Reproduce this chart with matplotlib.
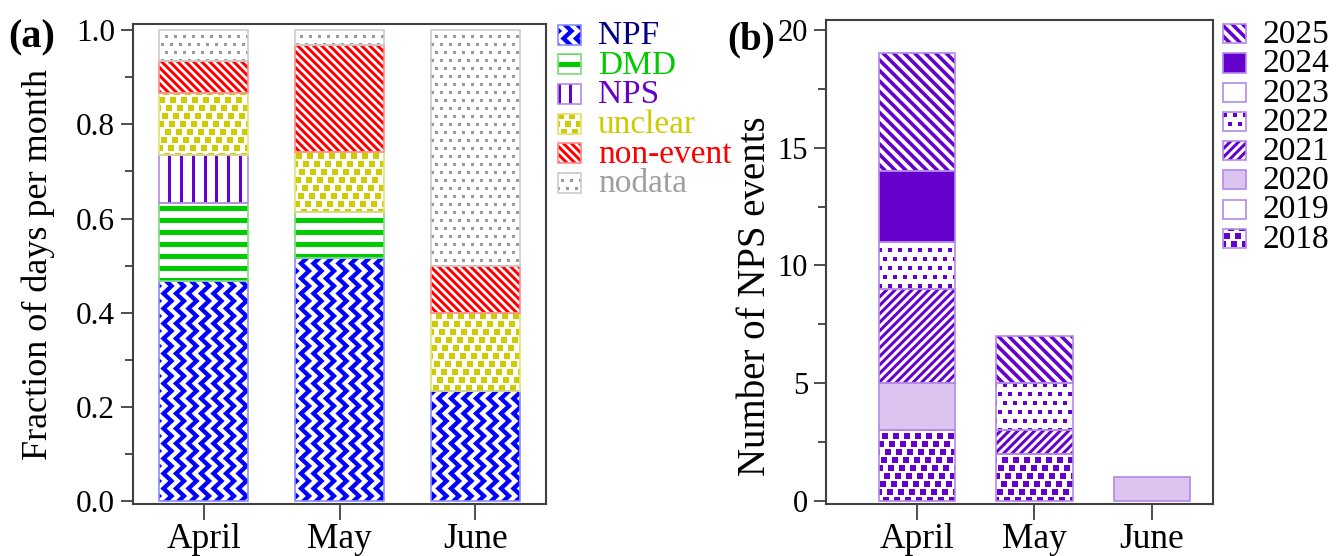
import numpy as np
import matplotlib
matplotlib.use("Agg")
import matplotlib.pyplot as plt
from matplotlib.collections import LineCollection, PolyCollection
from matplotlib.patches import Rectangle
from matplotlib.transforms import IdentityTransform

### data
months = ["April", "May", "June"]

# (a) fraction of days per month, stacked bottom -> top
classes = ["NPF", "DMD", "NPS", "unclear", "non-event", "nodata"]
npf = [0.467, 0.516, 0.233]
dmd = [0.167, 0.097, 0.0]
nps = [0.100, 0.0, 0.0]
unclear = [0.133, 0.129, 0.167]
nonevent = [0.067, 0.226, 0.100]
nodata = [0.066, 0.032, 0.500]

# (b) number of NPS events per year, stacked bottom -> top
years = ["2018", "2019", "2020", "2021", "2022", "2023", "2024", "2025"]
n2018 = [3, 2, 0]
n2019 = [0, 0, 0]
n2020 = [2, 0, 1]
n2021 = [4, 1, 0]
n2022 = [2, 2, 0]
n2023 = [0, 0, 0]
n2024 = [3, 0, 0]
n2025 = [5, 2, 0]

### styles
W, H, DPI = 1336, 556, 100
PT = 72 / DPI  # points per pixel
PURPLE = "#6600cc"
LILAC_EDGE = "#b48ae8"
TICK_FS = 22.5
XTICK_FS = 25.5
LEG_FS = 24

# kind, pattern colour, face, edge, text colour
style_a = {
    "NPF": ("zigzag", "#0000ff", "white", "#8c8cff", "#000080"),
    "DMD": ("hline", "#00cc00", "white", "#7ddc7d", "#00cc00"),
    "NPS": ("vline", PURPLE, "white", LILAC_EDGE, PURPLE),
    "unclear": ("sq_big", "#cccc00", "white", "#e2e27a", "#cccc00"),
    "non-event": ("bslash", "#ff0000", "white", "#ff8c8c", "#ff0000"),
    "nodata": ("sq_small", "#9a9a9a", "white", "#cccccc", "#a0a0a0"),
}
style_b = {
    "2018": ("sq_big", PURPLE, "white"),
    "2019": ("none", PURPLE, "white"),
    "2020": ("none", PURPLE, "#dcc4f0"),
    "2021": ("slash", PURPLE, "white"),
    "2022": ("sq_dots", PURPLE, "white"),
    "2023": ("none", PURPLE, "white"),
    "2024": ("none", PURPLE, PURPLE),
    "2025": ("bslash_wide", PURPLE, "white"),
}

plt.rcParams["font.family"] = ["Liberation Serif", "DejaVu Serif"]
plt.rcParams["axes.linewidth"] = 1.5
plt.rcParams["axes.edgecolor"] = "#404040"


def fill_pattern(add, patch, kind, color, z):
    # draw a hatch-like pattern in pixel units, clipped to the patch
    if kind == "none":
        return
    bb = patch.get_window_extent()
    x0, y0, x1, y1 = bb.x0 - 3, bb.y0 - 3, bb.x1 + 3, bb.y1 + 3
    if kind == "hline":
        sp = 12.0
        ys = np.arange(np.floor(y0 / sp) * sp, y1 + sp, sp)
        coll = LineCollection([[(x0, y), (x1, y)] for y in ys], linewidths=5 * PT)
    elif kind == "vline":
        sp = 11.8
        xs = np.arange(np.floor(x0 / sp) * sp + 4, x1 + sp, sp)
        coll = LineCollection([[(x, y0), (x, y1)] for x in xs], linewidths=3 * PT)
    elif kind in ("bslash", "bslash_wide"):
        sp = 8.0 if kind == "bslash" else 10.5
        cs = np.arange(np.floor((x0 + y0) / sp) * sp, x1 + y1 + sp, sp)
        coll = LineCollection([[(c - y0, y0), (c - y1, y1)] for c in cs],
                              linewidths=(3 if kind == "bslash" else 3.6) * PT)
    elif kind == "slash":
        sp = 8.5
        cs = np.arange(np.floor((y0 - x1) / sp) * sp, y1 - x0 + sp, sp)
        coll = LineCollection([[(x0, x0 + c), (x1, x1 + c)] for c in cs], linewidths=3 * PT)
    elif kind == "zigzag":
        sp, per, amp = 12.5, 15.0, 4.0
        xs = np.arange(np.floor(x0 / sp) * sp + 5, x1 + sp, sp)
        ys = np.arange(np.floor(y0 / per) * per, y1 + per, per / 2)
        off = amp * np.where(np.arange(len(ys)) % 2 == 0, 1.0, -1.0)
        coll = LineCollection([np.column_stack([x + off, ys]) for x in xs], linewidths=4.3 * PT)
        coll.set_joinstyle("miter")
    else:
        dx, dy, shift, size = {
            "sq_big": (11.0, 8.0, 4.0, 5.5),
            "sq_small": (9.0, 8.0, 4.5, 3.0),
            "sq_dots": (10.0, 9.0, 5.0, 3.5),
        }[kind]
        h = size / 2
        verts = []
        for j in np.arange(np.floor(y0 / dy), np.ceil(y1 / dy) + 1):
            y = j * dy
            start = (j * shift) % dx
            for x in np.arange(np.floor(x0 / dx) * dx - dx + start, x1 + dx, dx):
                verts.append([(x - h, y - h), (x + h, y - h), (x + h, y + h), (x - h, y + h)])
        coll = PolyCollection(verts, facecolors=color, edgecolors="none")
    if isinstance(coll, LineCollection):
        coll.set_color(color)
    coll.set_transform(IdentityTransform())
    coll.set_zorder(z)
    add(coll)
    coll.set_clip_path(patch)  # after adding, so the container does not replace it


def px_axes(left, top, right, bottom):
    return [left / W, 1 - bottom / H, (right - left) / W, (bottom - top) / H]


fig = plt.figure(figsize=(W / DPI, H / DPI), dpi=DPI)
axa = fig.add_axes(px_axes(133, 24, 546, 504))
axb = fig.add_axes(px_axes(826, 20, 1213, 504))

for ax in (axa, axb):
    ax.tick_params(axis="both", which="both", direction="out", color="#404040",
                   width=1.3, right=False, top=False)
    ax.tick_params(axis="y", which="major", length=9, pad=4, labelsize=TICK_FS)
    ax.tick_params(axis="y", which="minor", length=5.5)
    ax.tick_params(axis="x", which="major", length=11.5, pad=2, labelsize=XTICK_FS)

x = np.arange(1, len(months) + 1)
width = 0.65

### panel (a)
axa.set_xlim(0.48, 3.52)
axa.set_ylim(-0.006, 1.013)
axa.set_yticks(np.arange(0, 1.01, 0.2))
axa.set_yticks(np.arange(0.1, 1.0, 0.2), minor=True)
axa.set_xticks(x, months)

bottom = np.zeros(len(months))
for name, vals in zip(classes, [npf, dmd, nps, unclear, nonevent, nodata]):
    kind, col, face, edge, tcol = style_a[name]
    vals = np.array(vals)
    bars = axa.bar(x, vals, width, bottom=bottom, color=face, edgecolor="none", zorder=2)
    for rect, v in zip(bars, vals):
        if v > 0:
            fill_pattern(axa.add_collection, rect, kind, col, 2.2)
    axa.bar(x, vals, width, bottom=bottom, fill=False, edgecolor=edge,
            linewidth=[1.2 if v > 0 else 0 for v in vals], zorder=2.5)
    bottom += vals

axa.set_ylabel("Fraction of days per month", fontsize=26)
axa.yaxis.set_label_coords(-0.19, 0.5)

### panel (b)
axb.set_xlim(0.225, 3.52)
axb.set_ylim(-0.13, 20.42)
axb.set_yticks([0, 5, 10, 15, 20])
axb.set_yticks([2.5, 7.5, 12.5, 17.5], minor=True)
axb.set_xticks(x, months)
axb.tick_params(axis="y", which="major", labelsize=22)

bottom = np.zeros(len(months))
for yr, vals in zip(years, [n2018, n2019, n2020, n2021, n2022, n2023, n2024, n2025]):
    kind, col, face = style_b[yr]
    vals = np.array(vals, dtype=float)
    bars = axb.bar(x, vals, width, bottom=bottom, color=face, edgecolor="none", zorder=2)
    for rect, v in zip(bars, vals):
        if v > 0:
            fill_pattern(axb.add_collection, rect, kind, col, 2.2)
    axb.bar(x, vals, width, bottom=bottom, fill=False, edgecolor=LILAC_EDGE,
            linewidth=[1.2 if v > 0 else 0 for v in vals], zorder=2.5)
    bottom += vals

axb.set_ylabel("Number of NPS events", fontsize=28)
axb.yaxis.set_label_coords(-0.134, 0.43)


### legends, drawn by hand so the pattern swatches match the bars
def legend_item(xl, yc, w, h, kind, col, face, edge, label, tcol):
    r = Rectangle((xl / W, 1 - (yc + h / 2) / H), w / W, h / H, transform=fig.transFigure,
                  facecolor=face, edgecolor="none", zorder=3)
    fig.add_artist(r)
    fill_pattern(fig.add_artist, r, kind, col, 3.2)
    fig.add_artist(Rectangle((xl / W, 1 - (yc + h / 2) / H), w / W, h / H,
                             transform=fig.transFigure, fill=False, edgecolor=edge,
                             linewidth=1.2, zorder=3.5))
    fig.text((xl + w + 17) / W, 1 - (yc + 9.5) / H, label, color=tcol, fontsize=LEG_FS,
             va="baseline", ha="left")


for i, name in enumerate(classes):
    kind, col, face, edge, tcol = style_a[name]
    legend_item(558, 34.5 + 29.7 * i, 23, 20, kind, col, face, edge, name, tcol)

for i, yr in enumerate(years[::-1]):
    kind, col, face = style_b[yr]
    legend_item(1223, 33.8 + 29.2 * i, 23, 19, kind, col, face, LILAC_EDGE, yr, "black")

fig.text(8 / W, 1 - 38 / H, "(a)", fontsize=29, fontweight="bold", va="center", ha="left")
fig.text(727 / W, 1 - 40 / H, "(b)", fontsize=28, fontweight="bold", va="center", ha="left")

fig.savefig("out.png", dpi=DPI)
